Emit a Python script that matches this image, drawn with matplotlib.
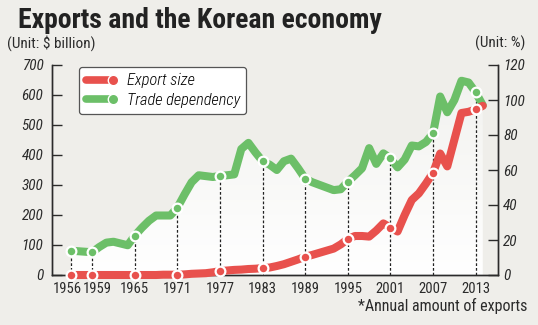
import matplotlib
matplotlib.use("Agg")
import matplotlib.pyplot as plt
import matplotlib.transforms as mtransforms
import numpy as np
from matplotlib.lines import Line2D
from matplotlib.legend_handler import HandlerLine2D
from matplotlib.patches import Polygon

# data
years = list(range(1956, 2015))
export_size = [0, 0, 0, 0, 0, 0, 0, 0, 0, 0,
               0, 0, 0, 1, 1, 1, 2, 4, 5, 6,
               9, 13, 15, 17, 18, 20, 21, 23, 25, 30,
               36, 44, 52, 61, 67, 74, 81, 88, 102, 120,
               130, 130, 128, 148, 172, 158, 145, 200, 250, 272,
               305, 341, 405, 362, 451, 540, 544, 552, 564]
trade_dep = [13.9, 13.6, 13.3, 13.0, 16, 18.5, 19, 18, 17, 22.5,
             27, 31, 34, 34, 34, 38.5, 46, 53, 57, 56.5,
             56, 56.6, 57, 57.5, 72, 75.5, 70, 65, 63, 60,
             65, 66.5, 61, 55, 53, 51.5, 50, 48.5, 49, 53.3,
             57, 61, 72.5, 63.5, 69.5, 66.7, 61.5, 66, 74, 73.5,
             76, 81, 102, 93, 100, 111, 110, 104.4, 97]
mark_years = [1956, 1959, 1965, 1971, 1977, 1983, 1989, 1995, 2001, 2007, 2013]

RED = "#e8514d"
GREEN = "#6cbf68"
BG = "#efeeea"
INK = "#2b2b2b"

plt.rcParams["font.family"] = ["Roboto Condensed", "DejaVu Sans"]

fig = plt.figure(figsize=(5.38, 3.25), dpi=100, facecolor=BG)
ax = fig.add_axes([51.7 / 538, 1 - 275 / 325, (497.7 - 51.7) / 538, 210 / 325])
ax2 = ax.twinx()
ax.set_zorder(ax2.get_zorder() + 1)
ax.patch.set_visible(False)
ax2.patch.set_facecolor(BG)

ax.set_xlim(1953.3, 2016.1)
ax.set_ylim(0, 700)
ax2.set_ylim(0, 120)

x = np.array(years, dtype=float)
td = np.array(trade_dep)
ex = np.array(export_size)

# gradient fill under the trade dependency line
grad = np.linspace(1, 0, 256).reshape(-1, 1)
cmap = matplotlib.colors.LinearSegmentedColormap.from_list("g", ["#f2f2ef", "#ffffff"])
im = ax2.imshow(grad, extent=[x[0], x[-1], 0, td.max()], aspect="auto", cmap=cmap,
                origin="lower", zorder=1)
poly = Polygon(np.column_stack([np.r_[x, x[-1], x[0]], np.r_[td, 0, 0]]),
               closed=True, transform=ax2.transData, facecolor="none", edgecolor="none")
ax2.add_patch(poly)
im.set_clip_path(poly)
ax2.set_xlim(1953.3, 2016.1)

idx = [years.index(y) for y in mark_years]
ax2.vlines(x[idx], 0, td[idx], colors="#222222", linestyles=(0, (2.2, 1.6)), lw=0.9, zorder=2)
ax2.plot(x, td, color=GREEN, lw=5.8, solid_joinstyle="round", solid_capstyle="round", zorder=3)
ax2.plot(x[idx], td[idx], "o", ms=7, mfc=GREEN, mec="white", mew=1.6, zorder=4)

ax.plot(x, ex, color=RED, lw=5.8, solid_joinstyle="round", solid_capstyle="round",
        zorder=3, clip_on=False)
ax.plot(x[idx], ex[idx], "o", ms=7, mfc=RED, mec="white", mew=1.6, zorder=4, clip_on=False)

for a in (ax, ax2):
    a.spines["top"].set_visible(False)
    for s in ("left", "right", "bottom"):
        a.spines[s].set_color(INK)
        a.spines[s].set_linewidth(1.0)

ax.set_xticks(mark_years)
ax.set_xticklabels([str(y) for y in mark_years], fontsize=10.5, color=INK)
ax.tick_params(axis="x", length=0, pad=5)
# the first two labels sit close together; nudge them apart
xl = ax.get_xticklabels()
xl[0].set_transform(xl[0].get_transform() + mtransforms.ScaledTranslation(-3.5 / 100, 0, fig.dpi_scale_trans))
xl[1].set_transform(xl[1].get_transform() + mtransforms.ScaledTranslation(5.5 / 100, 0, fig.dpi_scale_trans))

ax.set_yticks(range(0, 701, 100))
ax.tick_params(axis="y", direction="in", length=7, width=1, color=INK, pad=6,
               labelsize=11, labelcolor=INK)
for t in ax.get_yticklabels():
    t.set_fontstyle("italic")
ax2.set_yticks(range(0, 121, 20))
ax2.tick_params(axis="y", direction="in", length=7, width=1, color=INK, pad=4,
                labelsize=11, labelcolor=INK)
for t in ax2.get_yticklabels():
    t.set_fontstyle("italic")


class EndDot(HandlerLine2D):
    def create_artists(self, legend, orig_handle, xdescent, ydescent, width, height,
                       fontsize, trans):
        y = height / 2 - ydescent
        c = orig_handle.get_color()
        ln = Line2D([-xdescent, width - xdescent - 4], [y, y], color=c, lw=5.5,
                    solid_capstyle="round", transform=trans)
        dot = Line2D([width - xdescent - 3], [y], marker="o", ms=7.5, mfc=c, mec="white",
                     mew=1.0, transform=trans)
        return [ln, dot]


handles = [Line2D([], [], color=RED), Line2D([], [], color=GREEN)]
leg = ax.legend(handles, ["Export size", "Trade dependency"],
                handler_map={Line2D: EndDot()}, loc="upper left",
                bbox_to_anchor=(79 / 538, 1 - 66.7 / 325), bbox_transform=fig.transFigure,
                borderaxespad=0, frameon=True, fancybox=True, handlelength=1.95,
                handletextpad=0.55, labelspacing=0.25, borderpad=0.4,
                prop={"size": 11.8, "style": "italic", "weight": "light"})
leg.get_frame().set_edgecolor("#555555")
leg.get_frame().set_linewidth(0.9)
leg.get_frame().set_facecolor("white")
leg.get_frame().set_alpha(1)
leg.set_zorder(10)

fig.text(18 / 538, 1 - 21 / 325, "Exports and the Korean economy", fontsize=20,
         fontweight="bold", color="#222222", va="center", ha="left")
fig.text(7 / 538, 1 - 43 / 325, r"(Unit: \$ billion)", fontsize=11, color=INK,
         va="center", ha="left")
fig.text(525 / 538, 1 - 43 / 325, "(Unit: %)", fontsize=11, color=INK,
         va="center", ha="right")
fig.text(527 / 538, 1 - 306 / 325, "*Annual amount of exports", fontsize=11.5, color=INK,
         va="center", ha="right")

fig.savefig("out.png", dpi=100, facecolor=BG)
